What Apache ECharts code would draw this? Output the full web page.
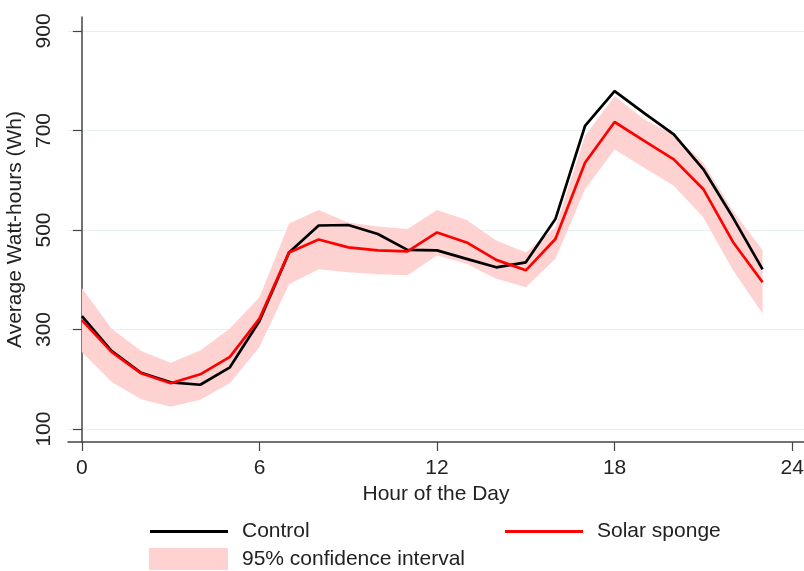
<!DOCTYPE html>
<html>
<head>
<meta charset="utf-8">
<script src="https://cdn.jsdelivr.net/npm/echarts@6/dist/echarts.min.js"></script>
<style>
html,body{margin:0;padding:0;background:#fff;}
#chart{width:804px;height:571px;}
</style>
</head>
<body>
<div id="chart"></div>
<script>
const hours = [0,1,2,3,4,5,6,7,8,9,10,11,12,13,14,15,16,17,18,19,20,21,22,23];
const control = [327,257,213,194,189,224,317,455,509,510,492,460,459,442,425,435,522,709,779,735,692,622,525,421];
const solar = [319,255,212,192,210,245,322,455,481,465,459,457,495,475,440,419,482,635,717,679,642,582,476,395];
const ciUpper = [383,302,257,233,258,302,365,513,540,515,507,502,540,520,479,455,505,689,769,722,692,635,538,460];
const ciLower = [255,195,160,145,159,192,265,391,421,415,411,409,449,432,402,385,442,582,662,625,589,525,419,332];
const xTicks = [0,6,12,18,24];
const yTicks = [100,300,500,700,900];

const FONT = 'Liberation Sans';
const FS = 21;
const chart = echarts.init(document.getElementById('chart'), null, {renderer:'canvas'});
const pink = '#ffd2d2';

const pairs = (arr) => hours.map((h,i) => [h, arr[i]]);

chart.setOption({
  animation:false,
  backgroundColor:'#fff',
  grid:{left:68, right:0, top:17, bottom:129, containLabel:false, outerBoundsMode:'none'},
  xAxis:{
    type:'value', min:-0.47, max:24.4,
    name:'Hour of the Day', nameLocation:'middle', nameGap:37,
    nameTextStyle:{fontFamily:FONT, fontSize:FS, color:'#222'},
    axisLine:{show:true, lineStyle:{color:'#444', width:1.5}},
    axisTick:{show:true, customValues:xTicks, length:9, lineStyle:{color:'#444', width:1.2}},
    axisLabel:{customValues:xTicks, fontFamily:FONT, fontSize:FS, color:'#222', margin:16},
    splitLine:{show:false}
  },
  yAxis:{
    type:'value', min:74, max:928,
    name:'Average Watt-hours (Wh)', nameLocation:'middle', nameGap:40,
    nameTextStyle:{fontFamily:FONT, fontSize:FS, color:'#222'},
    axisLine:{show:true, lineStyle:{color:'#444', width:1.5}},
    axisTick:{show:true, customValues:yTicks, length:9, lineStyle:{color:'#444', width:1.2}},
    axisLabel:{customValues:yTicks, rotate:90, fontFamily:FONT, fontSize:FS, color:'#222', margin:13},
    splitLine:{show:true, lineStyle:{color:'#e6eef0', width:1.2}}
  },
  legend:[
    {data:['Control'], left:150, top:521, padding:0, icon:'rect', itemWidth:78, itemHeight:3, selectedMode:false,
     textStyle:{fontFamily:FONT, fontSize:FS, color:'#222', padding:[0,0,0,9]}},
    {data:['Solar sponge'], left:505, top:521, padding:0, icon:'rect', itemWidth:78, itemHeight:3, selectedMode:false,
     textStyle:{fontFamily:FONT, fontSize:FS, color:'#222', padding:[0,0,0,9]}},
    {data:[{name:'95% confidence interval', itemStyle:{color:pink}}], left:149, top:548, padding:0, icon:'rect', itemWidth:79, itemHeight:22, selectedMode:false,
     textStyle:{fontFamily:FONT, fontSize:FS, color:'#222', padding:[0,0,0,9]}}
  ],
  series:[
    {name:'95% confidence interval', type:'custom', coordinateSystem:'cartesian2d',
     data:hours.map((h,i)=>[h, ciLower[i], ciUpper[i]]),
     encode:{x:0, y:[1,2]}, silent:true, z:1, itemStyle:{color:pink},
     renderItem:function(params, api){
       if (params.dataIndex !== 0) return null;
       const pts = [];
       for (let i=0;i<hours.length;i++) pts.push(api.coord([hours[i], ciUpper[i]]));
       for (let i=hours.length-1;i>=0;i--) pts.push(api.coord([hours[i], ciLower[i]]));
       return {type:'polygon', shape:{points:pts}, style:{fill:pink}};
     }},
    {name:'Control', type:'line', data:pairs(control), symbol:'none', color:'#000',
     lineStyle:{color:'#000', width:2.7}, z:3},
    {name:'Solar sponge', type:'line', data:pairs(solar), symbol:'none', color:'#ff0000',
     lineStyle:{color:'#ff0000', width:2.7}, z:4}
  ]
});
</script>
</body>
</html>
